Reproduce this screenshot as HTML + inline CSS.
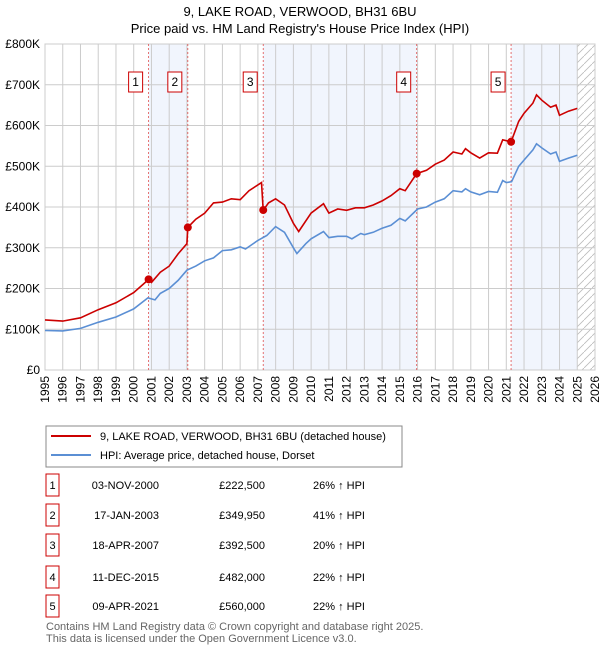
<!DOCTYPE html>
<html><head><meta charset="utf-8"><style>
body{margin:0;background:#fff;font-family:"Liberation Sans","DejaVu Sans",sans-serif;}
#wrap{position:relative;width:600px;height:650px;overflow:hidden}
</style></head><body><div id="wrap">
<svg id="chart" width="600" height="650" style="position:absolute;left:0;top:0"></svg>
</div>
<script>
const hpiYears=[1995,1996,1997,1998,1999,2000,2000.8,2001.2,2001.5,2002,2002.5,2003,2003.5,2004,2004.5,2005,2005.5,2006,2006.3,2007,2007.5,2008,2008.5,2009,2009.2,2009.7,2010,2010.7,2011,2011.5,2012,2012.3,2012.8,2013,2013.5,2014,2014.5,2015,2015.3,2016,2016.5,2017,2017.5,2018,2018.5,2018.7,2019,2019.5,2020,2020.5,2020.8,2021,2021.3,2021.7,2022,2022.5,2022.7,2023,2023.5,2023.8,2024,2024.5,2025];
const hpiValues=[97,96,102,117,130,150,177,172,188,200,220,245,255,268,275,293,295,302,297,318,330,352,338,300,286,310,322,340,325,328,328,322,335,332,338,348,355,372,366,395,400,412,420,440,437,445,437,430,438,436,465,460,462,500,515,540,555,545,530,535,512,520,527];
const propYears=[1995,1996,1997,1998,1999,2000,2000.84,2001,2001.5,2002,2002.5,2003,2003.05,2003.5,2004,2004.5,2005,2005.5,2006,2006.5,2007.2,2007.3,2007.6,2008,2008.5,2009,2009.3,2010,2010.7,2011,2011.5,2012,2012.5,2013,2013.5,2014,2014.5,2015,2015.3,2015.95,2016.5,2017,2017.5,2018,2018.5,2018.7,2019,2019.5,2020,2020.5,2020.8,2021.27,2021.7,2022,2022.5,2022.7,2023,2023.5,2023.8,2024,2024.5,2025];
const propValues=[123,120,128,148,165,190,222,215,240,255,285,310,350,370,385,410,412,420,418,440,460,392,410,420,405,360,340,385,408,385,395,392,398,398,405,415,428,445,440,482,490,505,515,535,530,543,533,520,533,532,565,560,610,630,655,675,662,645,650,625,635,642];
const saleLabels=["1","2","3","4","5"];
const saleYears=[2000.84,2003.05,2007.3,2015.95,2021.27];
const saleValues=[222.5,349.95,392.5,482,560];
const saleDates=["03-NOV-2000","17-JAN-2003","18-APR-2007","11-DEC-2015","09-APR-2021"];
const salePrices=["£222,500","£349,950","£392,500","£482,000","£560,000"];
const saleHpi=["26% ↑ HPI","41% ↑ HPI","20% ↑ HPI","22% ↑ HPI","22% ↑ HPI"];
const yTicks=[0,100,200,300,400,500,600,700,800];
const yTickLabels=["£0","£100K","£200K","£300K","£400K","£500K","£600K","£700K","£800K"];
const xTicks=[1995,1996,1997,1998,1999,2000,2001,2002,2003,2004,2005,2006,2007,2008,2009,2010,2011,2012,2013,2014,2015,2016,2017,2018,2019,2020,2021,2022,2023,2024,2025,2026];

const L=45,R=595,T=44,B=370,X0=1995,X1=2026;
const xs=v=>L+(v-X0)/(X1-X0)*(R-L);
const ys=v=>B-v/800*(B-T);
const svg=document.getElementById('chart');
const NS='http://www.w3.org/2000/svg';
function mk(tag,attrs,parent){const e=document.createElementNS(NS,tag);for(const k in attrs)e.setAttribute(k,attrs[k]);(parent||svg).appendChild(e);return e;}
function txt(x,y,s,attrs){const e=mk('text',Object.assign({x:x,y:y,'font-size':12,'font-family':'Liberation Sans, DejaVu Sans, sans-serif'},attrs||{}));e.textContent=s;return e;}

let e;
e=txt(300,16,"9, LAKE ROAD, VERWOOD, BH31 6BU",{'text-anchor':'middle','font-size':13});


e=txt(300,33,"Price paid vs. HM Land Registry's House Price Index (HPI)",{'text-anchor':'middle','font-size':13});



for(let i=0;i<saleYears.length;i+=2){
  const x0=xs(saleYears[i]);const x1=i+1<saleYears.length?xs(saleYears[i+1]):xs(2025);
  e=mk('rect',{x:x0,y:T,width:x1-x0,height:B-T,fill:'#eef3fc',opacity:0.8});
  
  
}
const defs=mk('defs',{});
const pat=mk('pattern',{id:'hatch',width:8,height:8,patternUnits:'userSpaceOnUse'},defs);
mk('path',{d:'M0,8 L8,0',stroke:'#bbb','stroke-width':0.8},pat);
e=mk('rect',{x:xs(2025),y:T,width:R-xs(2025),height:B-T,fill:'url(#hatch)'});



yTicks.forEach((v,i)=>{
  e=mk('line',{x1:L,x2:R,y1:ys(v),y2:ys(v),stroke:'#ccc','stroke-width':1});
  
  
  e=txt(L-5,ys(v)+4,yTickLabels[i],{'text-anchor':'end','font-size':12});
  
  
});
xTicks.forEach(v=>{
  e=mk('line',{x1:xs(v),x2:xs(v),y1:T,y2:B,stroke:'#ccc','stroke-width':1});
  
  
  const x=xs(v)+4,y=376;
  e=txt(x,y,String(v),{'text-anchor':'end','font-size':12,transform:'rotate(-90 '+x+' '+y+')'});
  
  
});
e=mk('rect',{x:L,y:T,width:R-L,height:B-T,fill:'none',stroke:'#ccc'});



saleYears.forEach(v=>{
  e=mk('line',{x1:xs(v),x2:xs(v),y1:T,y2:B,stroke:'#e05050','stroke-width':0.8,'stroke-dasharray':'2,2'});
  
  
});

function pts(xa,va){return xa.map((x,i)=>xs(x).toFixed(1)+','+ys(va[i]).toFixed(1)).join(' ');}
e=mk('polyline',{points:pts(hpiYears,hpiValues),fill:'none',stroke:'#5b8fd4','stroke-width':1.6});


e=mk('polyline',{points:pts(propYears,propValues),fill:'none',stroke:'#cc0000','stroke-width':1.6});



saleYears.forEach((v,i)=>{
  e=mk('circle',{cx:xs(v),cy:ys(saleValues[i]),r:4,fill:'#cc0000'});
  
  
  const g=mk('g',{});
  
  
  mk('rect',{x:xs(v)-20,y:72,width:14,height:20,fill:'#fff',stroke:'#cc0000'},g);
  const t=txt(xs(v)-13,86,saleLabels[i],{'text-anchor':'middle','font-size':12});
  g.appendChild(t);
});

const lg=mk('g',{});


mk('rect',{x:46,y:426,width:356,height:41,fill:'#fff',stroke:'#888'},lg);
e=mk('line',{x1:51,x2:91,y1:436,y2:436,stroke:'#cc0000','stroke-width':2},lg);


lg.appendChild(txt(100,440,"9, LAKE ROAD, VERWOOD, BH31 6BU (detached house)",{'font-size':11}));
e=mk('line',{x1:51,x2:91,y1:455,y2:455,stroke:'#5b8fd4','stroke-width':2},lg);


lg.appendChild(txt(100,459,"HPI: Average price, detached house, Dorset",{'font-size':11}));

const rowY=[483,513,543,575,604];
saleLabels.forEach((s,i)=>{
  const y=rowY[i];
  const g=mk('g',{});
  
  
  mk('rect',{x:46,y:y-9,width:13,height:22,fill:'#fff',stroke:'#cc0000'},g);
  g.appendChild(txt(52.5,y+6,s,{'text-anchor':'middle','font-size':11}));
  g.appendChild(txt(159,y+6,saleDates[i],{'text-anchor':'end','font-size':11}));
  g.appendChild(txt(265,y+6,salePrices[i],{'text-anchor':'end','font-size':11}));
  g.appendChild(txt(313,y+6,saleHpi[i],{'font-size':11}));
});
e=txt(46,630,"Contains HM Land Registry data © Crown copyright and database right 2025.",{'font-size':11,fill:'#666'});


e=txt(46,642,"This data is licensed under the Open Government Licence v3.0.",{'font-size':11,fill:'#666'});


</script></body></html>
